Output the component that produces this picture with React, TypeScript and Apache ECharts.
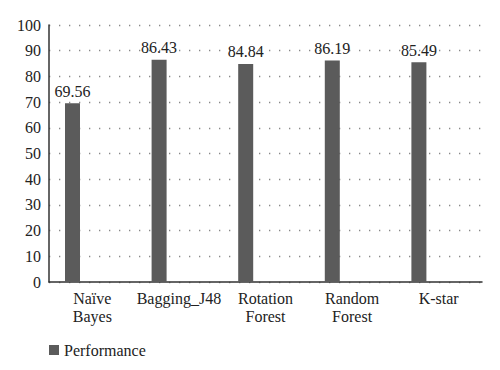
import React, { useEffect, useRef } from "react";
import * as echarts from "echarts";

const categories = ["Naïve\nBayes", "Bagging_J48", "Rotation\nForest", "Random\nForest", "K-star"];
const performance = [69.56, 86.43, 84.84, 86.19, 85.49];
const yTicks = { min: 0, max: 100, interval: 10 };

const FONT = "serif";

export default function App() {
  const ref = useRef<HTMLDivElement>(null);
  useEffect(() => {
    if (!ref.current) return;
    const chart = echarts.init(ref.current, null, { renderer: "svg" });
    chart.setOption({
      animation: false,
      backgroundColor: "#ffffff",
      textStyle: { fontFamily: FONT },
      grid: { left: 49, right: 18, top: 25, bottom: 88, containLabel: false },
      legend: {
        data: ["Performance"],
        left: 44,
        top: 337,
        itemWidth: 10,
        itemHeight: 10,
        icon: "rect",
        textStyle: { fontFamily: FONT, fontSize: 16, color: "#222" },
      },
      xAxis: {
        type: "category",
        data: categories,
        axisLine: { show: true, lineStyle: { color: "#333", width: 1.5 } },
        axisTick: { show: false },
        axisLabel: {
          fontFamily: FONT,
          fontSize: 16,
          color: "#222",
          lineHeight: 18,
          margin: 7,
          interval: 0,
        },
      },
      yAxis: {
        type: "value",
        min: yTicks.min,
        max: yTicks.max,
        interval: yTicks.interval,
        axisLine: { show: true, lineStyle: { color: "#333", width: 1.5 } },
        axisTick: { show: false },
        axisLabel: { fontFamily: FONT, fontSize: 16, color: "#222", margin: 8 },
        splitLine: {
          show: true,
          lineStyle: { color: "#888", type: [1.3, 8.7], width: 1.3 },
        },
      },
      series: [
        {
          name: "Performance",
          type: "bar",
          data: performance,
          barWidth: 15,
          barGap: "164%",
          itemStyle: { color: "#5b5b5b" },
          label: {
            show: true,
            position: "top",
            distance: 4,
            fontFamily: FONT,
            fontSize: 16,
            color: "#222",
            formatter: (p: any) => p.value.toFixed(2),
          },
        },
        {
          name: "_spacer",
          type: "bar",
          data: performance.map(() => null),
          barWidth: 15,
          barGap: "164%",
        },
      ],
    });
    return () => chart.dispose();
  }, []);
  return <div ref={ref} style={{ width: 500, height: 370, margin: -8 }} />;
}
